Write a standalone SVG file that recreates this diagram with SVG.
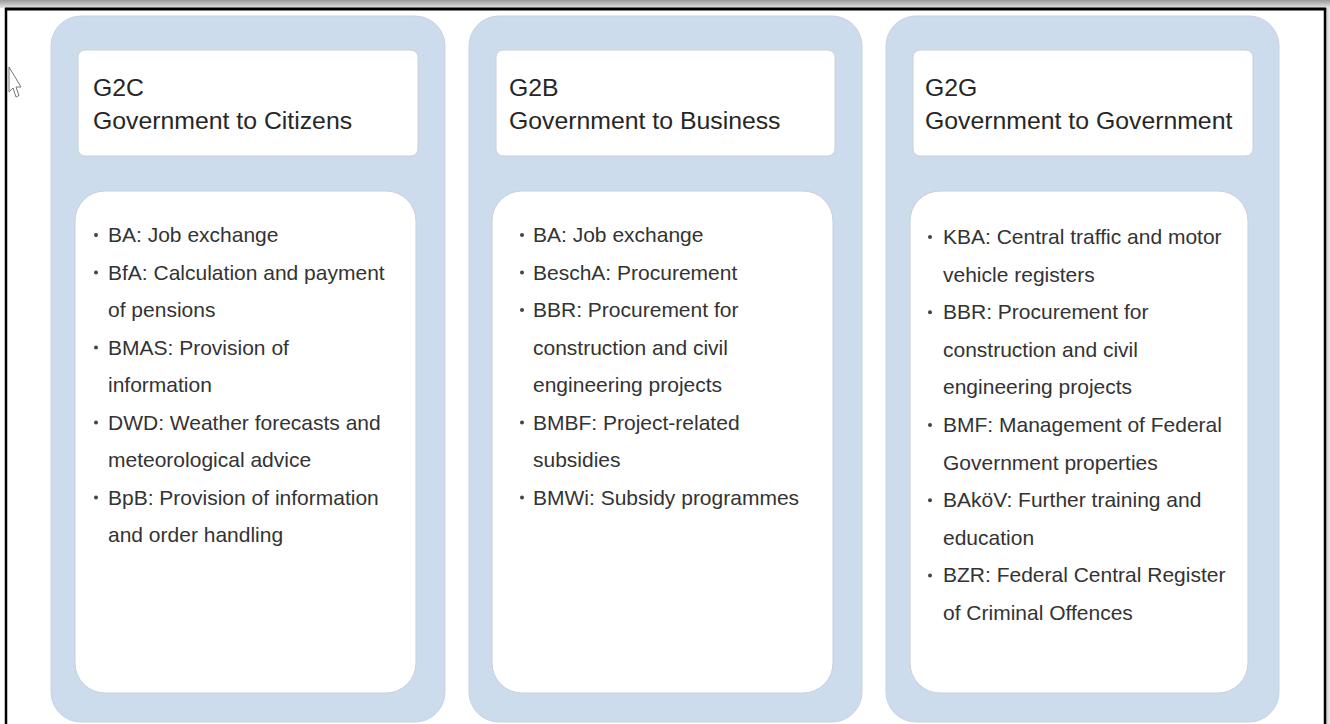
<svg xmlns="http://www.w3.org/2000/svg" width="1330" height="724" viewBox="0 0 1330 724">
  <defs>
    <linearGradient id="topShade" x1="0" y1="0" x2="0" y2="1">
      <stop offset="0" stop-color="#9a9a9a"/>
      <stop offset="1" stop-color="#e6e6e6"/>
    </linearGradient>
    <linearGradient id="rightShade" x1="0" y1="0" x2="1" y2="0">
      <stop offset="0" stop-color="#c8c8c8"/>
      <stop offset="1" stop-color="#eeeeee"/>
    </linearGradient>
  </defs>
  <style>
    .panel { fill: #cddcec; stroke: #c4d3e4; stroke-width: 1; }
    .head { fill: #ffffff; stroke: #c6d0dc; stroke-width: 1; }
    .body { fill: #ffffff; stroke: #c6d0dc; stroke-width: 1; }
    .htxt { font-family: "Liberation Sans", Arial, sans-serif; font-size: 24.8px; fill: #262626; }
    .btxt { font-family: "Liberation Sans", Arial, sans-serif; font-size: 21px; fill: #333333; }
    .bul { fill: #444444; }
  </style>

  <rect x="0" y="0" width="1330" height="724" fill="#ffffff"/>
  <!-- frame -->
  <rect x="0" y="0" width="1330" height="8" fill="url(#topShade)"/>
  <rect x="1326" y="8" width="4" height="716" fill="url(#rightShade)"/>
  <line x1="5" y1="9" x2="1326" y2="9" stroke="#000" stroke-width="3"/>
  <line x1="6" y1="8" x2="6" y2="724" stroke="#000" stroke-width="2.5"/>
  <line x1="1325" y1="8" x2="1325" y2="724" stroke="#000" stroke-width="2.5"/>

  <!-- cursor -->
  <path d="M9 67 L9 92 L13 88 L16 97 L19 95.5 L16 87 L21 87 Z" fill="#ffffff" stroke="#777" stroke-width="1"/>

  <g id="g2c">
    <rect class="panel" x="51" y="16" width="394" height="706" rx="30"/>
    <rect class="head" x="78" y="50" width="340" height="106" rx="7"/>
    <text class="htxt" x="93" y="96">G2C</text>
    <text class="htxt" x="93" y="129">Government to Citizens</text>
    <rect class="body" x="75" y="191" width="341" height="502" rx="30"/>
    <g class="btxt">
      <text x="108" y="242">BA: Job exchange</text>
      <text x="108" y="279.5">BfA: Calculation and payment</text>
      <text x="108" y="317">of pensions</text>
      <text x="108" y="354.5">BMAS: Provision of</text>
      <text x="108" y="392">information</text>
      <text x="108" y="429.5">DWD: Weather forecasts and</text>
      <text x="108" y="467">meteorological advice</text>
      <text x="108" y="504.5">BpB: Provision of information</text>
      <text x="108" y="542">and order handling</text>
    </g>
    <g class="bul">
      <circle cx="96" cy="235" r="2"/>
      <circle cx="96" cy="272.5" r="2"/>
      <circle cx="96" cy="347.5" r="2"/>
      <circle cx="96" cy="422.5" r="2"/>
      <circle cx="96" cy="497.5" r="2"/>
    </g>
  </g>

  <g id="g2b">
    <rect class="panel" x="469" y="16" width="393" height="706" rx="30"/>
    <rect class="head" x="496" y="50" width="339" height="106" rx="7"/>
    <text class="htxt" x="509" y="96">G2B</text>
    <text class="htxt" x="509" y="129">Government to Business</text>
    <rect class="body" x="492" y="191" width="341" height="502" rx="30"/>
    <g class="btxt">
      <text x="533" y="242">BA: Job exchange</text>
      <text x="533" y="279.5">BeschA: Procurement</text>
      <text x="533" y="317">BBR: Procurement for</text>
      <text x="533" y="354.5">construction and civil</text>
      <text x="533" y="392">engineering projects</text>
      <text x="533" y="429.5">BMBF: Project-related</text>
      <text x="533" y="467">subsidies</text>
      <text x="533" y="504.5">BMWi: Subsidy programmes</text>
    </g>
    <g class="bul">
      <circle cx="522" cy="235" r="2"/>
      <circle cx="522" cy="272.5" r="2"/>
      <circle cx="522" cy="310" r="2"/>
      <circle cx="522" cy="422.5" r="2"/>
      <circle cx="522" cy="497.5" r="2"/>
    </g>
  </g>

  <g id="g2g">
    <rect class="panel" x="886" y="16" width="393" height="706" rx="30"/>
    <rect class="head" x="913" y="50" width="340" height="106" rx="7"/>
    <text class="htxt" x="925" y="96">G2G</text>
    <text class="htxt" x="925" y="129">Government to Government</text>
    <rect class="body" x="910" y="191" width="338" height="502" rx="30"/>
    <g class="btxt">
      <text x="943" y="244">KBA: Central traffic and motor</text>
      <text x="943" y="281.6">vehicle registers</text>
      <text x="943" y="319.2">BBR: Procurement for</text>
      <text x="943" y="356.8">construction and civil</text>
      <text x="943" y="394.4">engineering projects</text>
      <text x="943" y="432">BMF: Management of Federal</text>
      <text x="943" y="469.6">Government properties</text>
      <text x="943" y="507.2">BAköV: Further training and</text>
      <text x="943" y="544.8">education</text>
      <text x="943" y="582.4">BZR: Federal Central Register</text>
      <text x="943" y="620">of Criminal Offences</text>
    </g>
    <g class="bul">
      <circle cx="930" cy="237" r="2"/>
      <circle cx="930" cy="312.2" r="2"/>
      <circle cx="930" cy="425" r="2"/>
      <circle cx="930" cy="500.2" r="2"/>
      <circle cx="930" cy="575.4" r="2"/>
    </g>
  </g>

  <g id="connectors"/>
</svg>
